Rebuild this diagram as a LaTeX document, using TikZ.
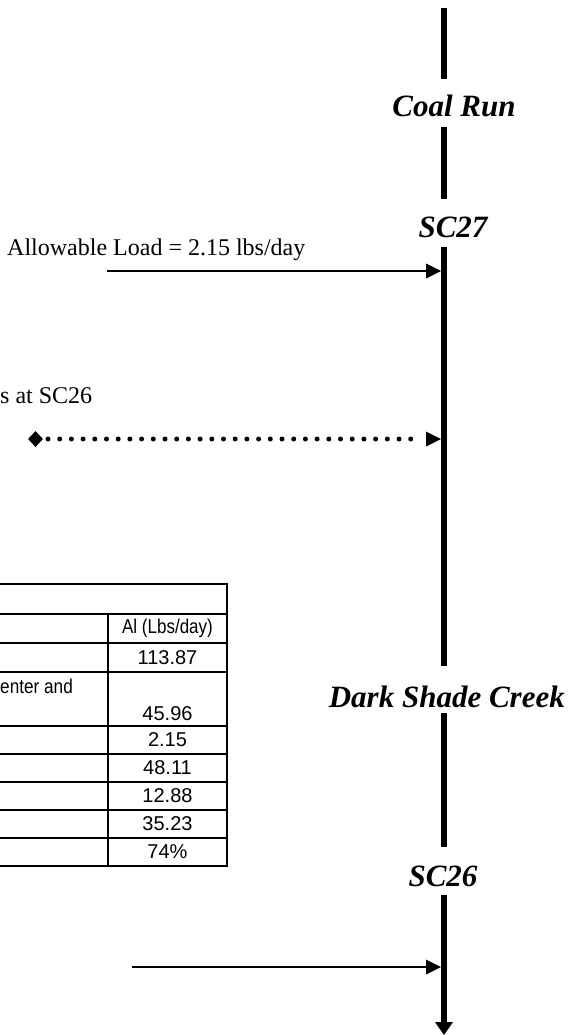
\documentclass[tikz,border=0pt]{standalone}
\usepackage{fontspec}
\setmainfont{Liberation Serif}
\newfontfamily\arialf{Liberation Sans}
\usetikzlibrary{arrows.meta,shapes.geometric}
\begin{document}
\begin{tikzpicture}[x=1pt,y=-1pt,
  river/.style={line width=6pt},
  lbl/.style={font=\fontsize{31}{36}\selectfont\bfseries\itshape, inner sep=0pt},
  note/.style={font=\fontsize{24}{28}\selectfont, inner sep=0pt},
  inflow/.style={line width=2pt, -{Triangle[length=15pt,width=15pt,line width=0pt]}},
  dotline/.style={line width=5pt, line cap=round, dash pattern=on 0pt off 11.7pt},
  gridline/.style={line width=2.7pt, line cap=rect},
  cell/.style={font=\arialf\fontsize{20}{24}\selectfont, inner sep=0pt},
]
\useasboundingbox (0,0) rectangle (568,1035);

% river
\coordinate (r0) at (444,8);
\coordinate (r1) at (444,79);
\node[lbl,anchor=base] (coal) at (454,117) {Coal Run};
\coordinate (r2) at (444,127);
\coordinate (r3) at (444,199);
\node[lbl,anchor=base] (sc27) at (453,237) {SC27};
\coordinate (r4) at (444,247);
\coordinate (r5) at (444,666);
\node[lbl,anchor=base east] (dsc) at (565,707) {Dark Shade Creek};
\coordinate (r6) at (444,713);
\coordinate (r7) at (444,847);
\node[lbl,anchor=base] (sc26) at (443,886) {SC26};
\coordinate (r8) at (444,895);
\coordinate (r9) at (444,1035);
\draw[river] (r0) -- (r1);
\draw[river] (r2) -- (r3);
\draw[river] (r4) -- (r5);
\draw[river] (r6) -- (r7);
\draw[river,-{Triangle[length=13pt,width=18pt,line width=0pt]}] (r8) -- (r9);

% allowable load
\node[note,anchor=base west] (allow) at (7,255) {Allowable Load = 2.15 lbs/day};
\coordinate (a0) at (107,271);
\coordinate (a1) at (441,271);
\draw[inflow] (a0) -- (a1);

% dotted inflow
\node[note,anchor=base west] (sat) at (0,403) {s at SC26};
\node[diamond, fill, inner sep=0pt, minimum width=15pt, minimum height=16pt] (dia) at (35.5,439) {};
\coordinate (d0) at (48,439);
\coordinate (d1) at (418,439);
\coordinate (d2) at (426,439);
\coordinate (d3) at (441,439);
\draw[dotline] (d0) -- (d1);
\draw[inflow] (d2) -- (d3);

% lower inflow
\coordinate (b0) at (132,967);
\coordinate (b1) at (441,967);
\draw[inflow] (b0) -- (b1);

% table
\foreach \y in {584,614,643,672,726,754,782,810,838,866}
  \draw[gridline] (0,\y) -- (227,\y);
\draw[gridline] (227,584) -- (227,866);
\draw[line width=2pt] (108,614) -- (108,866);

\node[cell] (h1) at (167.5,628.5) {\scalebox{0.85}[1]{Al (Lbs/day)}};
\node[cell] (v1) at (167.5,657.5) {113.87};
\node[cell,anchor=base west] (t1) at (0,693) {\scalebox{0.86}[1]{enter and}};
\node[cell,anchor=base] (v2) at (167.5,720) {45.96};
\node[cell] (v3) at (167.5,740) {2.15};
\node[cell] (v4) at (167.5,768) {48.11};
\node[cell] (v5) at (167.5,796) {12.88};
\node[cell] (v6) at (167.5,824) {35.23};
\node[cell] (v7) at (167.5,852) {74\%};
\end{tikzpicture}
\end{document}
